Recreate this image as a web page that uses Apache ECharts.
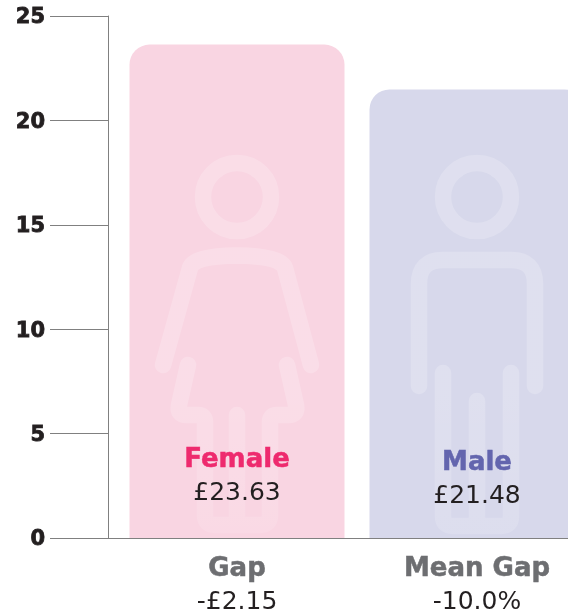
<!DOCTYPE html>
<html>
<head>
<meta charset="utf-8">
<style>
  html, body { margin: 0; padding: 0; background: #fff; }
  #chart { width: 568px; height: 615px; }
</style>
<script src="https://cdn.jsdelivr.net/npm/echarts@6/dist/echarts.min.js"></script>
</head>
<body>
<div id="chart"></div>
<script>
const chart = echarts.init(document.getElementById("chart"));

const NAMES = ["Female", "Male"];
const WAGES = [23.63, 21.48];
const GAP_TITLES = ["Gap", "Mean Gap"];
const GAP_VALUES = ["-£2.15", "-10.0%"];
const BAR_COLORS = ["#f9d5e2", "#d7d8eb"];
const NAME_STYLES = ["female", "male"];
const LABEL_DISTANCE = [28, 25];

const FONT = "DejaVu Sans";
const INK = "#231f20";
const AXIS = "#808080";
const ICON = "rgba(255,255,255,0.2)";
const ICON_FADE = ["rgba(255,255,255,0.1)", "rgba(255,255,255,0.14)"];

// figure outlines behind the text
const FEMALE_BODY =
  "M163 365 L190 268 Q193 256 237 255.5 Q281 256 285 268 L311 365 " +
  "M188 365 L179 405 Q177 415 187 415 L198 415 Q205 415 205 422 L205 515 " +
  "Q205 525 215 525 L260 525 Q270 525 270 515 L270 422 Q270 415 277 415 " +
  "L288 415 Q298 415 296 405 L287 365 M237 415 L237 520";
const MALE_BODY =
  "M419 386 L419 284 Q419 260 443 260 L511 260 Q535 260 535 284 L535 386 " +
  "M443 373 L443 516 Q443 526 453 526 L501 526 Q511 526 511 516 L511 373 " +
  "M477 401 L477 520";
const BODIES = [FEMALE_BODY, MALE_BODY];
const HEAD_X = [237, 477];

function renderFigure(params) {
  const i = params.dataIndex;
  const line = { fill: "none", lineWidth: 16.5, lineCap: "round", lineJoin: "round" };
  const fade = new echarts.graphic.LinearGradient(0, 0, 0, 1, [
    { offset: 0, color: ICON },
    { offset: 0.5, color: ICON },
    { offset: 1, color: ICON_FADE[i] }
  ]);
  return {
    type: "group",
    children: [
      { type: "circle", shape: { cx: HEAD_X[i], cy: 197, r: 34 }, style: { ...line, stroke: ICON } },
      { type: "path", shape: { pathData: BODIES[i] }, style: { ...line, stroke: fade } }
    ]
  };
}

chart.setOption({
  animation: false,
  backgroundColor: "#fff",
  textStyle: { fontFamily: FONT },

  grid: { left: 117, right: -29, top: 16, bottom: 77, outerBoundsMode: "none" },

  xAxis: {
    type: "category",
    data: GAP_TITLES,
    axisLine: { lineStyle: { color: AXIS, width: 1 } },
    axisTick: { show: false },
    axisLabel: {
      margin: 15,
      interval: 0,
      formatter: (title, i) => `{title|${title}}\n{value|${GAP_VALUES[i]}}`,
      rich: {
        title: { fontFamily: FONT, fontSize: 26, fontWeight: 700, color: "#6d6e71", lineHeight: 33,
                 textBorderColor: "#6d6e71", textBorderWidth: 0.5 },
        value: { fontFamily: FONT, fontSize: 25, fontWeight: 400, color: INK, lineHeight: 33 }
      }
    }
  },

  yAxis: [
    {
      type: "value",
      position: "left",
      min: 0,
      max: 25,
      interval: 5,
      offset: 9,
      splitLine: { show: false },
      axisLine: { show: true, lineStyle: { color: AXIS, width: 1 } },
      axisTick: { show: true, length: 58, lineStyle: { color: AXIS, width: 1 } },
      axisLabel: {
        margin: 63,
        verticalAlign: "top",
        lineHeight: 4,
        fontFamily: FONT,
        fontSize: 21,
        fontWeight: 700,
        color: INK,
        textBorderColor: INK,
        textBorderWidth: 0.8
      }
    },
    {
      // carries the baseline over the short stretch left of the first band
      type: "value",
      position: "left",
      min: 0,
      max: 25,
      splitLine: { show: false },
      axisLine: { show: false },
      axisLabel: { show: false },
      axisTick: { show: true, length: 9, customValues: [0], lineStyle: { color: AXIS, width: 1 } }
    }
  ],

  series: [
    {
      type: "bar",
      z: 2,
      barWidth: 215,
      barGap: "-100%",
      data: WAGES.map((v, i) => ({
        value: v,
        itemStyle: { color: BAR_COLORS[i], borderRadius: [20, 20, 0, 0] }
      }))
    },
    {
      type: "custom",
      z: 3,
      silent: true,
      renderItem: renderFigure,
      data: WAGES
    },
    {
      type: "bar",
      z: 4,
      barWidth: 215,
      barGap: "-100%",
      itemStyle: { color: "transparent" },
      data: WAGES.map((v, i) => ({
        value: v,
        label: {
          show: true,
          position: "insideBottom",
          distance: LABEL_DISTANCE[i],
          formatter: `{${NAME_STYLES[i]}|${NAMES[i]}}\n{value|£${v.toFixed(2)}}`,
          rich: {
            female: { fontFamily: FONT, fontSize: 26, fontWeight: 700, color: "#ee2a6e", lineHeight: 33,
                      textBorderColor: "#ee2a6e", textBorderWidth: 0.5 },
            male: { fontFamily: FONT, fontSize: 26, fontWeight: 700, color: "#6365ae", lineHeight: 33,
                    textBorderColor: "#6365ae", textBorderWidth: 0.5 },
            value: { fontFamily: FONT, fontSize: 25, fontWeight: 400, color: INK, lineHeight: 33 }
          }
        }
      }))
    }
  ]
});
</script>
</body>
</html>
